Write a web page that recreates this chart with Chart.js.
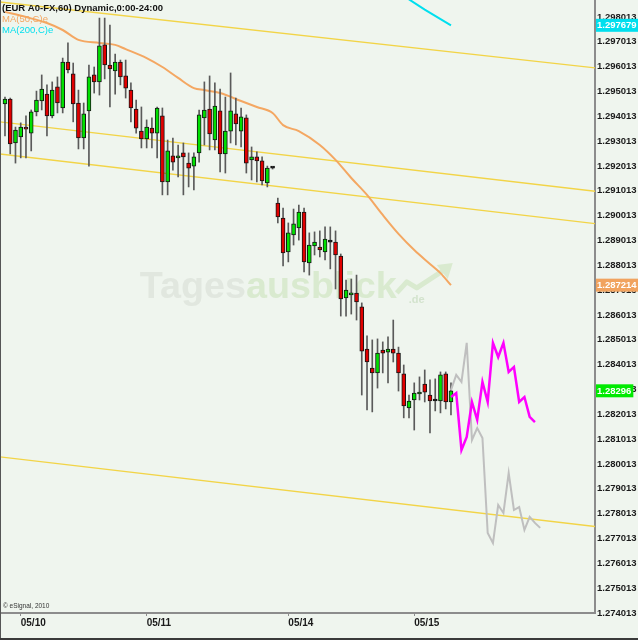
<!DOCTYPE html>
<html>
<head>
<meta charset="utf-8">
<script src="https://cdn.jsdelivr.net/npm/chart.js@4.4.1/dist/chart.umd.min.js"></script>
<style>
  html, body { margin: 0; padding: 0; background: #eff5ee; overflow: hidden; }
  #wrap { width: 638px; height: 640px; }
</style>
</head>
<body>
<div id="wrap"><canvas id="chart" width="638" height="640"></canvas></div>
<script>
// ── Data ──────────────────────────────────────────────────────────────────────
// hourly EUR/USD candles, index 0 = 05/09 21:00
const opens = [
  1.29451, 1.29471, 1.29294, 1.29318, 1.29358, 1.29334, 1.29419, 1.29463, 1.29491, 1.29403,
  1.29520, 1.29435, 1.29620, 1.29572, 1.29455, 1.29314, 1.29423, 1.29568, 1.29540, 1.29689,
  1.29608, 1.29584, 1.29620, 1.29564, 1.29507, 1.29431, 1.29342, 1.29310, 1.29354, 1.29334,
  1.29403, 1.29137, 1.29242, 1.29234, 1.29254, 1.29213, 1.29201, 1.29254, 1.29395, 1.29431,
  1.29306, 1.29423, 1.29250, 1.29342, 1.29411, 1.29342, 1.29395, 1.29226, 1.29238, 1.29222,
  1.29133, 1.29193, 1.29052, 1.28992, 1.28855, 1.28924, 1.28952, 1.29016, 1.28811, 1.28879,
  1.28875, 1.28855, 1.28895, 1.28895, 1.28839, 1.28670, 1.28682, 1.28690, 1.28634, 1.28464,
  1.28388, 1.28368, 1.28460, 1.28452, 1.28464, 1.28448, 1.28364, 1.28227, 1.28259, 1.28283,
  1.28323, 1.28279, 1.28255, 1.28255, 1.28364, 1.28251
];
const highs = [
  1.29479, 1.29475, 1.29358, 1.29375, 1.29403, 1.29427, 1.29503, 1.29568, 1.29528, 1.29540,
  1.29560, 1.29636, 1.29697, 1.29616, 1.29507, 1.29455, 1.29608, 1.29600, 1.29797, 1.29797,
  1.29769, 1.29652, 1.29628, 1.29628, 1.29536, 1.29467, 1.29439, 1.29387, 1.29395, 1.29439,
  1.29435, 1.29306, 1.29314, 1.29286, 1.29294, 1.29254, 1.29254, 1.29427, 1.29540, 1.29564,
  1.29536, 1.29511, 1.29479, 1.29576, 1.29475, 1.29435, 1.29407, 1.29278, 1.29258, 1.29238,
  1.29201, 1.29197, 1.29072, 1.29032, 1.28972, 1.29028, 1.29044, 1.29032, 1.28932, 1.28936,
  1.28940, 1.28956, 1.28956, 1.28940, 1.28847, 1.28742, 1.28746, 1.28762, 1.28650, 1.28517,
  1.28501, 1.28505, 1.28493, 1.28513, 1.28581, 1.28472, 1.28400, 1.28279, 1.28328, 1.28352,
  1.28380, 1.28340, 1.28344, 1.28372, 1.28372, 1.28328
];
const lows = [
  1.29322, 1.29250, 1.29213, 1.29234, 1.29234, 1.29262, 1.29403, 1.29427, 1.29322, 1.29395,
  1.29415, 1.29415, 1.29576, 1.29379, 1.29270, 1.29270, 1.29201, 1.29495, 1.29487, 1.29552,
  1.29439, 1.29491, 1.29528, 1.29475, 1.29379, 1.29334, 1.29274, 1.29274, 1.29274, 1.29234,
  1.29085, 1.29085, 1.29185, 1.29157, 1.29085, 1.29117, 1.29105, 1.29217, 1.29286, 1.29266,
  1.29266, 1.29177, 1.29173, 1.29294, 1.29286, 1.29278, 1.29173, 1.29145, 1.29137, 1.29125,
  1.29117, 1.29189, 1.28972, 1.28799, 1.28815, 1.28883, 1.28903, 1.28775, 1.28762, 1.28843,
  1.28835, 1.28823, 1.28787, 1.28706, 1.28597, 1.28597, 1.28605, 1.28581, 1.28279, 1.28219,
  1.28211, 1.28307, 1.28368, 1.28328, 1.28412, 1.28295, 1.28187, 1.28187, 1.28138, 1.28259,
  1.28251, 1.28126, 1.28215, 1.28207, 1.28223, 1.28199
];
const closes = [
  1.29471, 1.29290, 1.29346, 1.29358, 1.29350, 1.29419, 1.29467, 1.29511, 1.29403, 1.29507,
  1.29455, 1.29620, 1.29588, 1.29451, 1.29314, 1.29411, 1.29560, 1.29540, 1.29685, 1.29608,
  1.29592, 1.29620, 1.29560, 1.29515, 1.29435, 1.29354, 1.29310, 1.29358, 1.29334, 1.29435,
  1.29137, 1.29262, 1.29217, 1.29242, 1.29238, 1.29193, 1.29238, 1.29407, 1.29427, 1.29330,
  1.29443, 1.29250, 1.29342, 1.29423, 1.29371, 1.29399, 1.29213, 1.29238, 1.29222, 1.29141,
  1.29193, 1.29193, 1.28996, 1.28851, 1.28932, 1.28968, 1.29016, 1.28815, 1.28883, 1.28895,
  1.28863, 1.28907, 1.28895, 1.28843, 1.28666, 1.28702, 1.28690, 1.28654, 1.28456, 1.28412,
  1.28368, 1.28448, 1.28448, 1.28464, 1.28448, 1.28368, 1.28235, 1.28255, 1.28287, 1.28291,
  1.28291, 1.28255, 1.28255, 1.28360, 1.28251, 1.28296
];

// moving averages (bar index, value)
const ma50Idx = [0, 4, 8, 11, 14, 18, 21, 23, 27, 30, 33, 36, 38, 41, 45, 48, 51, 53, 56, 60, 63, 66, 69, 72, 75, 78, 81, 83, 85];
const ma50Val = [1.29822, 1.29801, 1.29777, 1.29749, 1.29709, 1.29697, 1.29689, 1.29672, 1.29636, 1.29600,
                 1.29556, 1.29515, 1.29507, 1.29495, 1.29463, 1.29439, 1.29415, 1.29366, 1.29342, 1.29286,
                 1.29226, 1.29153, 1.29085, 1.29004, 1.28928, 1.28863, 1.28807, 1.28770, 1.287214];
const ma200Idx = [76, 80, 85];
const ma200Val = [1.29886, 1.29831, 1.297679];

// forecast paths starting at the last bar
const grayIdx = [85, 86, 87, 88, 89, 90, 91, 92, 93, 94, 95, 96, 97, 98, 99, 100, 101, 102];
const grayVal = [1.28299, 1.28360, 1.28332, 1.28489, 1.28098, 1.28146, 1.28106, 1.27723, 1.27683, 1.27836,
                 1.27804, 1.27965, 1.27816, 1.27828, 1.27736, 1.27788, 1.27764, 1.27744];
const magentaIdx = [85, 86, 87, 88, 89, 90, 91, 92, 93, 94, 95, 96, 97, 98, 99, 100, 101];
const magentaVal = [1.28271, 1.28287, 1.28058, 1.28110, 1.28251, 1.28179, 1.28332, 1.28251, 1.28489, 1.28432,
                    1.28489, 1.28372, 1.28392, 1.28251, 1.28271, 1.28191, 1.28170];

// channel lines (two end points each)
const channelX = [-1, 113];
const channelA = [1.29862, 1.29595];
const channelB = [1.29379, 1.29098];
const channelC = [1.29250, 1.28968];
const channelD = [1.28030, 1.27748];

// axes
const dayTickIdx = [3, 27, 54, 78];
const dayLabels  = ['05/10', '05/11', '05/14', '05/15'];
const yTickVals = [
  1.274013, 1.275013, 1.276013, 1.277013, 1.278013, 1.279013, 1.280013, 1.281013, 1.282013,
  1.283013, 1.284013, 1.285013, 1.286013, 1.287013, 1.288013, 1.289013, 1.290013, 1.291013,
  1.292013, 1.293013, 1.294013, 1.295013, 1.296013, 1.297013, 1.298013
];
const X_MIN = -0.95, X_MAX = 112.45;
const Y_MIN = 1.274012, Y_MAX = 1.298698;

// last-value badges: MA200, MA50, close
const badgeVals = [1.297679, 1.287214, 1.28296];
const badgeColors = ['#00dfee', '#f1a35f', '#00ea00'];

// ── Helpers ───────────────────────────────────────────────────────────────────
const barIdx = opens.map((_, i) => i);
const pts = (xs, ys) => xs.map((x, k) => ({ x, y: ys[k] }));
const bodyColor = i => closes[i] > opens[i] ? '#00e000' : (closes[i] < opens[i] ? '#e10000' : '#111');
const FONT = "'Liberation Sans', Arial, sans-serif";
const AXIS_PX = 9.5;

const channelSet = (vals) => ({
  type: 'line', data: pts(channelX, vals),
  borderColor: '#f2d447', borderWidth: 1.4, pointRadius: 0, order: 9
});

// ── Plugins ───────────────────────────────────────────────────────────────────
const background = {
  id: 'background',
  beforeDraw(chart) {
    const { ctx, width, height } = chart;
    ctx.save();
    ctx.fillStyle = '#eff5ee';
    ctx.fillRect(0, 0, width, height);
    ctx.restore();
  }
};

const watermark = {
  id: 'watermark',
  beforeDatasetsDraw(chart) {
    const { ctx, chartArea: a } = chart;
    const x0 = a.left + a.width * 0.235;
    const base = a.top + a.height * 0.486;
    const target = a.width * 0.432;
    ctx.save();
    ctx.font = 'bold 36px ' + FONT;
    const size = 36 * target / ctx.measureText('Tagesausblick').width;
    ctx.font = 'bold ' + size.toFixed(1) + 'px ' + FONT;
    ctx.textBaseline = 'alphabetic';
    ctx.fillStyle = '#e1e7df';
    ctx.fillText('Tages', x0, base);
    const w1 = ctx.measureText('Tages').width;
    ctx.fillStyle = '#d9eacf';
    ctx.fillText('ausblick', x0 + w1, base);
    const xe = x0 + ctx.measureText('Tagesausblick').width;
    // small trend arrow + ".de"
    ctx.strokeStyle = '#d9eacf';
    ctx.lineWidth = 5;
    ctx.lineJoin = 'round';
    ctx.beginPath();
    ctx.moveTo(xe, base - 5);
    ctx.lineTo(xe + 10, base - 16);
    ctx.lineTo(xe + 20, base - 10);
    ctx.lineTo(xe + 46, base - 27);
    ctx.stroke();
    ctx.fillStyle = '#d9eacf';
    ctx.beginPath();
    ctx.moveTo(xe + 56, base - 35);
    ctx.lineTo(xe + 40, base - 33);
    ctx.lineTo(xe + 51, base - 19);
    ctx.closePath();
    ctx.fill();
    ctx.fillStyle = '#d3e3cd';
    ctx.font = 'bold 11px ' + FONT;
    ctx.fillText('.de', xe + 12, base + 5);
    ctx.restore();
  }
};

const overlay = {
  id: 'overlay',
  afterDraw(chart) {
    const { ctx, chartArea: a, width, height } = chart;
    const y = chart.scales.y;
    ctx.save();
    // frame
    ctx.fillStyle = '#555';
    ctx.fillRect(0, 0, 1, height);
    ctx.fillStyle = '#3a3a3a';
    ctx.fillRect(0, height - 2, width, 2);
    // header texts
    ctx.textBaseline = 'alphabetic';
    ctx.textAlign = 'left';
    ctx.fillStyle = '#111';
    ctx.font = 'bold 9.5px ' + FONT;
    ctx.fillText('(EUR A0-FX,60) Dynamic,0:00-24:00', 2, 11);
    ctx.font = '9.5px ' + FONT;
    ctx.fillStyle = '#f3a560';
    ctx.fillText('MA(50,C)e', 2, 22);
    ctx.fillStyle = '#00dfee';
    ctx.fillText('MA(200,C)e', 2, 33);
    ctx.fillStyle = '#333';
    ctx.font = '6.5px ' + FONT;
    ctx.fillText('\u00a9 eSignal, 2010', 3, a.bottom - 5);
    // last-value badges on the price axis
    ctx.font = 'bold ' + AXIS_PX + 'px ' + FONT;
    ctx.textBaseline = 'middle';
    badgeVals.forEach((v, k) => {
      const py = y.getPixelForValue(v);
      const txt = String(v);
      const w = ctx.measureText(txt).width + 3;
      ctx.fillStyle = badgeColors[k];
      ctx.fillRect(a.right + 1, py - 6.5, w, 13);
      ctx.fillStyle = '#fff';
      ctx.fillText(txt, a.right + 2, py + 0.5);
    });
    ctx.restore();
  }
};

// ── Chart ─────────────────────────────────────────────────────────────────────
new Chart(document.getElementById('chart'), {
  type: 'bar',
  data: {
    datasets: [
      { type: 'line', data: pts(magentaIdx, magentaVal), borderColor: '#ff00ff', borderWidth: 2.5,
        pointRadius: 0, order: 0 },
      { type: 'line', data: pts(grayIdx, grayVal), borderColor: '#bfbfbf', borderWidth: 2,
        pointRadius: 0, order: 1 },
      { data: barIdx.map(i => ({ x: i, y: [opens[i], closes[i]] })),
        backgroundColor: barIdx.map(bodyColor), borderColor: '#151515', borderWidth: 1,
        borderSkipped: false, barThickness: 4, minBarLength: 2, grouped: false, order: 2 },
      { data: barIdx.map(i => ({ x: i, y: [lows[i], highs[i]] })),
        backgroundColor: '#5a5a5a', barThickness: 1, grouped: false, order: 3 },
      { type: 'line', data: pts(ma50Idx, ma50Val), borderColor: '#f4a762', borderWidth: 2,
        pointRadius: 0, cubicInterpolationMode: 'monotone', order: 4 },
      { type: 'line', data: pts(ma200Idx, ma200Val), borderColor: '#00dfee', borderWidth: 2,
        pointRadius: 0, order: 5 },
      channelSet(channelA), channelSet(channelB), channelSet(channelC), channelSet(channelD)
    ]
  },
  options: {
    responsive: false,
    animation: false,
    layout: { padding: 0 },
    plugins: { legend: { display: false }, tooltip: { enabled: false } },
    scales: {
      x: {
        type: 'linear', min: X_MIN, max: X_MAX, offset: false,
        afterBuildTicks: s => { s.ticks = dayTickIdx.map(v => ({ value: v })); },
        afterFit: s => { s.height = 27; s.paddingLeft = 0; s.paddingRight = 0; },
        grid: { display: true, drawOnChartArea: false, drawTicks: true, tickLength: 3, color: '#8c8c8c', offset: false },
        border: { display: true, color: '#8c8c8c', width: 2 },
        ticks: {
          autoSkip: false, maxRotation: 0, align: 'start', padding: 1,
          color: '#1a1a1a', font: { family: FONT, size: 10, weight: 'bold' },
          callback: v => dayLabels[dayTickIdx.indexOf(v)]
        }
      },
      y: {
        type: 'linear', position: 'right', min: Y_MIN, max: Y_MAX,
        afterBuildTicks: s => { s.ticks = yTickVals.map(v => ({ value: v })); },
        afterFit: s => { s.width = 43; s.paddingTop = 0; s.paddingBottom = 0; },
        grid: { display: false, drawTicks: false },
        border: { display: true, color: '#8c8c8c', width: 2 },
        ticks: {
          crossAlign: 'near', padding: 2,
          color: '#1a1a1a', font: { family: FONT, size: AXIS_PX, weight: 'bold' },
          callback: v => v.toFixed(6)
        }
      }
    }
  },
  plugins: [background, watermark, overlay]
});
</script>
</body>
</html>
